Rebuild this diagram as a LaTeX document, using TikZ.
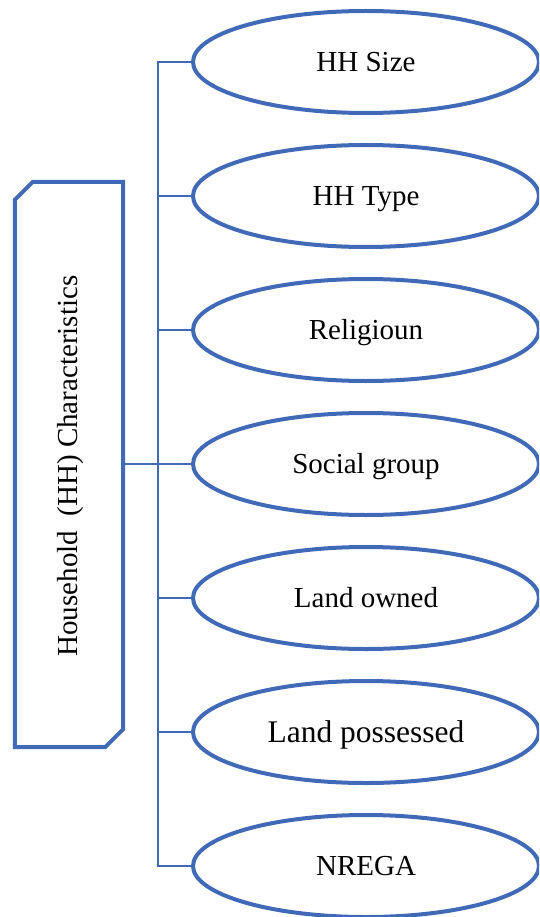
\documentclass[tikz,border=0pt]{standalone}
\usepackage{fontspec}
\setmainfont{Liberation Serif}
\usetikzlibrary{shapes.geometric,calc}
\definecolor{hhblue}{RGB}{64,106,184}
\begin{document}
\begin{tikzpicture}[x=1pt,y=-1pt,
  link/.style={draw=hhblue, line width=2.4pt},
  outline/.style={draw=hhblue, line width=4pt},
  item/.style={ellipse, outline, minimum width=346pt,
    minimum height=102pt, inner sep=0pt, text=black,
    text height=19.2pt, text depth=0pt,
    font=\fontsize{29}{34}\selectfont},
  title/.style={rotate=90, inner sep=0pt, text height=19.2pt, text depth=0pt,
    font=\fontsize{29}{34}\selectfont}]
\useasboundingbox (0,0) rectangle (539,917);
\clip (0,0) rectangle (539,917);

% heading box: rectangle with two cut corners
\node[minimum width=108pt, minimum height=565pt, inner sep=0pt] (box) at (69,464.5) {};
\draw[outline, line join=miter]
  ($(box.north west)+(0,18)$) -- ($(box.north west)+(18,0)$) -- (box.north east)
  -- ($(box.south east)+(0,-18)$) -- ($(box.south east)+(-18,0)$) -- (box.south west)
  -- cycle;
\node[title] (boxtitle) at (68,466) {Household\ \ (HH) Characteristics};

% the seven characteristics
\node[item] (e1) at (366,62)  {HH Size};
\node[item] (e2) at (366,196) {HH Type};
\node[item] (e3) at (366,330) {Religioun};
\node[item] (e4) at (366,464) {Social group};
\node[item] (e5) at (366,598) {Land owned};
\node[item, text height=20.8pt, font=\fontsize{31.5}{36}\selectfont] (e6) at (366,732) {Land possessed};
\node[item] (e7) at (366,866) {NREGA};

% trunk line and branches
\coordinate (trunk) at (158,0);
\draw[link] (e1.west) -- (e1.west -| trunk) -- (e7.west -| trunk) -- (e7.west);
\draw[link] (box.east |- e4.west) -- (e4.west);
\foreach \n in {e2,e3,e5,e6}
  \draw[link] (\n.west) -- (\n.west -| trunk);
\end{tikzpicture}
\end{document}
